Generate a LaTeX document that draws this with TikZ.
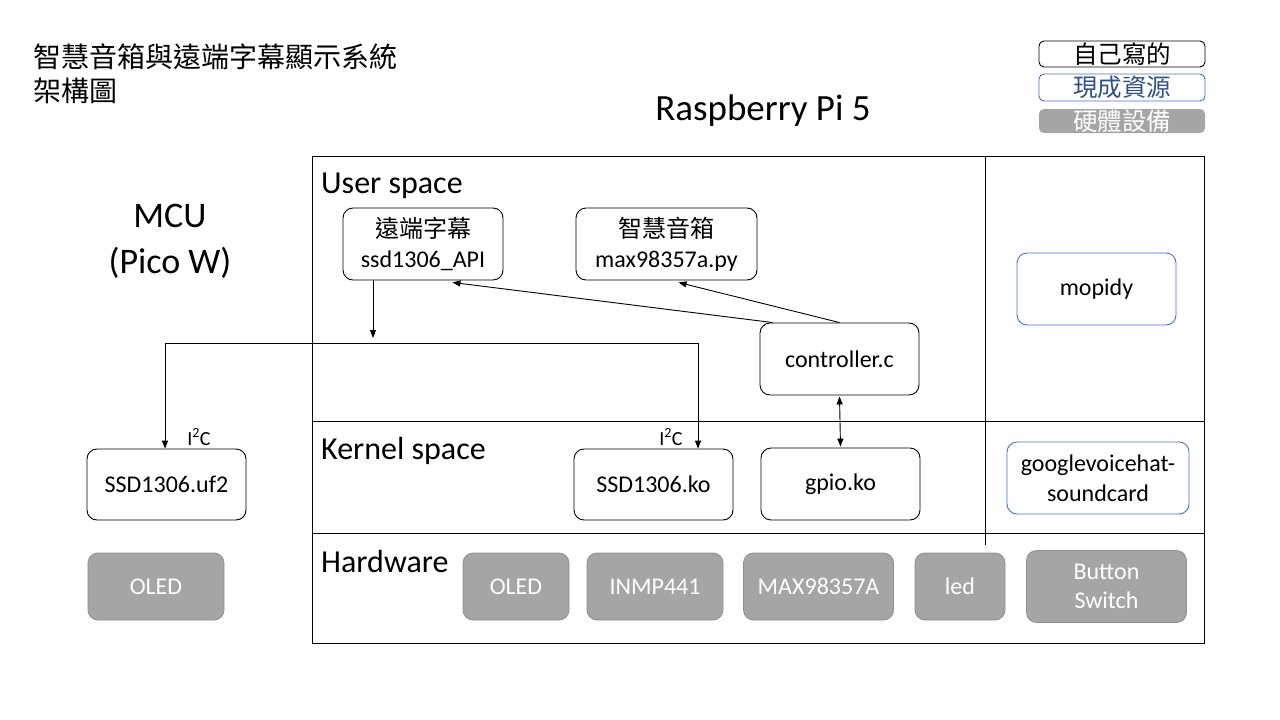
\documentclass[tikz,border=0pt]{standalone}
\usepackage{fontspec}
\setmainfont{Carlito}
\newfontfamily\cjk{Noto Sans CJK TC}
\usetikzlibrary{arrows.meta,calc}
\definecolor{bluebd}{HTML}{4472C4}
\definecolor{hwfill}{HTML}{A5A5A5}
\definecolor{hwdraw}{HTML}{8F8F8F}
\newcommand\bxfont{\fontsize{24}{30}\selectfont}
\newcommand\hwfont{\fontsize{24}{29}\selectfont}
\newcommand\bigfont{\fontsize{37}{46}\selectfont}
\newcommand\secfont{\fontsize{32}{36}\selectfont}
\tikzset{
  swbox/.style={draw=black, line width=0.9pt, rounded corners=10, align=center, font=\bxfont, inner sep=2pt, minimum height=72pt},
  resbox/.style={swbox, draw=bluebd},
  hwbox/.style={fill=hwfill, draw=hwdraw, line width=0.8pt, rounded corners=10, align=center, font=\hwfont, text=white, inner sep=2pt, minimum height=67pt},
  conn/.style={line width=0.9pt, -{Triangle[length=8pt,width=6pt]}},
  frame/.style={line width=1pt},
  seclabel/.style={anchor=west, font=\secfont, inner sep=0pt},
  legbox/.style={rounded corners=5, line width=0.9pt, minimum width=166pt, inner sep=0pt, font=\fontsize{24.5}{26}\selectfont\cjk}
}
\begin{document}
\begin{tikzpicture}[x=1pt,y=-1pt]
\useasboundingbox (0,0) rectangle (1280,720);
% title
\node[anchor=west, align=left, inner sep=0pt, font=\fontsize{28}{34}\selectfont\cjk] (title) at (33,74) {智慧音箱與遠端字幕顯示系統\\架構圖};
% legend
\node[legbox, draw=black, minimum height=26pt] (leg1) at (1122,54) {自己寫的};
\node[legbox, draw=bluebd, text=bluebd!70!black, minimum height=27pt] (leg2) at (1122,87.5) {現成資源};
\node[legbox, fill=hwfill, text=white, minimum height=24pt] (leg3) at (1122,121) {硬體設備};
% headings
\node[font=\bigfont, inner sep=0pt] (rpi) at (763,111) {Raspberry Pi 5};
\node[font=\fontsize{36}{46}\selectfont, align=center, inner sep=0pt] (mcu) at (170,241) {MCU\\(Pico W)};
% frame
\draw[frame] (312,156) rectangle (1204,643);
\draw[frame] (312,421) -- (1204,421);
\draw[frame] (312,533) -- (1204,533);
\draw[frame] (985,156) -- (985,545);
\node[seclabel] (user) at (321,186) {User space};
\node[seclabel] (kern) at (321,451) {Kernel space};
\node[seclabel] (hwl) at (321,562) {Hardware};
% user space
\node[swbox, minimum width=160pt] (api) at (423,244) {{\cjk 遠端字幕}\\ssd1306\_API};
\node[swbox, minimum width=181pt] (amp) at (666.5,244) {{\cjk 智慧音箱}\\max98357a.py};
\node[resbox, minimum width=159pt] (mopidy) at (1096.5,289) {mopidy};
\node[swbox, minimum width=159pt] (ctrl) at (839.5,359) {controller.c};
% kernel space
\node[swbox, minimum width=159pt, minimum height=71pt] (uf2) at (166.5,484.5) {SSD1306.uf2};
\node[swbox, minimum width=159pt, minimum height=71pt] (ko) at (653.5,484.5) {SSD1306.ko};
\node[swbox, minimum width=159pt] (gpio) at (840.5,484) {gpio.ko};
\node[resbox, minimum width=182pt] (gvh) at (1098,478) {googlevoicehat-\\soundcard};
% hardware
\node[hwbox, minimum width=136pt] (oled1) at (156,586.5) {OLED};
\node[hwbox, minimum width=106pt] (oled2) at (516,586.5) {OLED};
\node[hwbox, minimum width=136pt] (inmp) at (655,586.5) {INMP441};
\node[hwbox, minimum width=150pt] (max) at (818.5,586.5) {MAX98357A};
\node[hwbox, minimum width=90pt] (led) at (960,586.5) {led};
\node[hwbox, minimum width=160pt, minimum height=72pt] (btn) at (1106.5,586.5) {Button\\Switch};
% I2C labels
\node[font=\fontsize{20}{22}\selectfont, inner sep=0pt] (i2ca) at (199,437) {I\textsuperscript{2}C};
\node[font=\fontsize{20}{22}\selectfont, inner sep=0pt] (i2cb) at (671,437) {I\textsuperscript{2}C};
% connectors
\coordinate (down) at (373,338);
\coordinate (busL) at (165,343);
\coordinate (busR) at (698,343);
\draw[conn] (api.south -| down) -- (down);
\draw[conn] (busR) -- (busL) -- (uf2.north -| busL);
\draw[conn] (busL) -- (busR) -- (ko.north -| busR);
\draw[conn] ($(ctrl.north west)+(13,0)$) -- ($(api.south east)+(-51,2)$);
\draw[conn] (ctrl.north) -- ($(amp.south)+(12,2)$);
\draw[line width=0.9pt, {Triangle[length=8pt,width=6pt]}-{Triangle[length=8pt,width=6pt]}] ($(ctrl.south)+(0,1)$) -- ($(gpio.north)+(0,-1)$);
\end{tikzpicture}
\end{document}
